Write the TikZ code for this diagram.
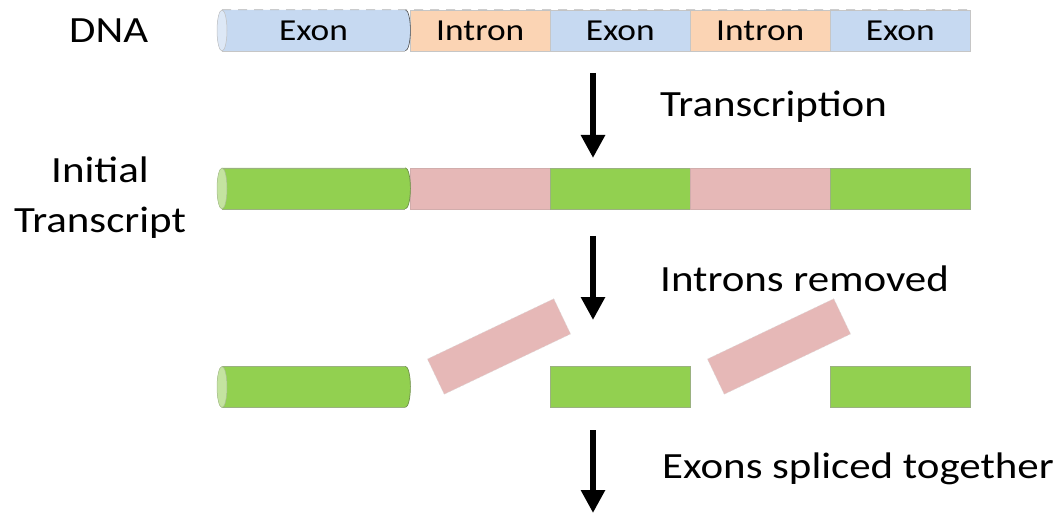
\documentclass[tikz,border=0pt]{standalone}
\usepackage{fontspec}
\setmainfont{Carlito}[FakeStretch=1.16]
\usetikzlibrary{arrows.meta}
\definecolor{exonblue}{HTML}{C6D9F1}
\definecolor{capblue}{HTML}{DDE8F6}
\definecolor{intronorange}{HTML}{FBD4B4}
\definecolor{rnagreen}{HTML}{92D050}
\definecolor{capgreen}{HTML}{C4E3A0}
\definecolor{rnapink}{HTML}{E6B8B7}
\definecolor{greenline}{HTML}{6F8F4A}
\begin{document}
\begin{tikzpicture}[x=1pt,y=1pt,
  seg/.style={minimum height=41pt, inner sep=0pt, anchor=west, font=\fontsize{30.5}{32}\selectfont},
  dnaseg/.style={seg, draw=gray!45, line width=0.5pt},
  rnaseg/.style={seg, draw=greenline!70, line width=0.5pt},
  pinkrot/.style={fill=rnapink, draw=gray!30, densely dotted, line width=0.6pt, minimum width=140pt, minimum height=39pt, inner sep=0pt},
  lbl/.style={font=\fontsize{37}{40}\selectfont, inner sep=0pt},
  bigarrow/.style={line width=6pt, -{Triangle[width=23pt,length=23pt]}}
]
\useasboundingbox (0,0) rectangle (1058,515);

% ---------- DNA row ----------
\node[dnaseg, fill=intronorange, minimum width=140pt] (d2) at (410,484.5) {Intron};
\node[dnaseg, fill=exonblue, minimum width=140pt] (d3) at (550,484.5) {Exon};
\node[dnaseg, fill=intronorange, minimum width=140pt] (d4) at (690,484.5) {Intron};
\node[dnaseg, fill=exonblue, minimum width=140pt] (d5) at (830,484.5) {Exon};
\node[seg, minimum width=183pt] (d1) at (222,484.5) {};
\fill[exonblue] (d1.north west) -- (d1.north east)
  arc[start angle=90, end angle=-90, x radius=5pt, y radius=20.5pt]
  -- (d1.south west) arc[start angle=270, end angle=90, x radius=5pt, y radius=20.5pt] -- cycle;
\draw[gray!45, line width=0.5pt] (d1.south west) -- (d1.south east);
\draw[black!70, line width=0.6pt] (d1.north east) arc[start angle=90, end angle=-90, x radius=5pt, y radius=20.5pt];
\draw[gray!50, line width=0.5pt, fill=capblue] (d1.west) ellipse[x radius=5pt, y radius=20.5pt];
\draw[gray!60, dashed, dash pattern=on 9pt off 7pt, line width=0.6pt] (d1.north west) -- (d5.north east);
\node[seg, anchor=center] (t1) at (313.5,484.5) {Exon};

% ---------- Initial transcript row ----------
\node[rnaseg, fill=rnapink, draw=rnapink!80!gray, minimum width=140pt] (r2) at (410,326.5) {};
\node[rnaseg, fill=rnagreen, minimum width=140pt] (r3) at (550,326.5) {};
\node[rnaseg, fill=rnapink, draw=rnapink!80!gray, minimum width=140pt] (r4) at (690,326.5) {};
\node[rnaseg, fill=rnagreen, minimum width=140pt] (r5) at (830,326.5) {};
\node[seg, minimum width=183pt] (r1) at (222,326.5) {};
\fill[rnagreen] (r1.north west) -- (r1.north east)
  arc[start angle=90, end angle=-90, x radius=5pt, y radius=20.5pt]
  -- (r1.south west) arc[start angle=270, end angle=90, x radius=5pt, y radius=20.5pt] -- cycle;
\draw[greenline!70, line width=0.5pt] (r1.north west) -- (r1.north east);
\draw[greenline!70, line width=0.5pt] (r1.south west) -- (r1.south east);
\draw[greenline, line width=0.7pt] (r1.north east) arc[start angle=90, end angle=-90, x radius=5pt, y radius=20.5pt];
\draw[greenline!60, line width=0.5pt, fill=capgreen] (r1.west) ellipse[x radius=5pt, y radius=20.5pt];

% ---------- Introns removed row ----------
\node[rnaseg, fill=rnagreen, minimum width=140pt] (s3) at (550,128) {};
\node[rnaseg, fill=rnagreen, minimum width=140pt] (s5) at (830,128) {};
\node[seg, minimum width=183pt] (s1) at (222,128) {};
\fill[rnagreen] (s1.north west) -- (s1.north east)
  arc[start angle=90, end angle=-90, x radius=5pt, y radius=20.5pt]
  -- (s1.south west) arc[start angle=270, end angle=90, x radius=5pt, y radius=20.5pt] -- cycle;
\draw[greenline!70, line width=0.5pt] (s1.north west) -- (s1.north east);
\draw[greenline!70, line width=0.5pt] (s1.south west) -- (s1.south east);
\draw[greenline, line width=0.7pt] (s1.north east) arc[start angle=90, end angle=-90, x radius=5pt, y radius=20.5pt];
\draw[greenline!60, line width=0.5pt, fill=capgreen] (s1.west) ellipse[x radius=5pt, y radius=20.5pt];
\node[pinkrot, rotate=25.5] (p1) at (499,168.5) {};
\node[pinkrot, rotate=25.5] (p2) at (779,168.5) {};

% ---------- arrows ----------
\coordinate (a1s) at (593,442); \coordinate (a1e) at (593,357);
\coordinate (a2s) at (593,279); \coordinate (a2e) at (593,195);
\coordinate (a3s) at (593,85);  \coordinate (a3e) at (593,2);
\draw[bigarrow] (a1s) -- (a1e);
\draw[bigarrow] (a2s) -- (a2e);
\draw[bigarrow] (a3s) -- (a3e);

% ---------- labels ----------
\node[lbl, anchor=base west] (dna) at (69,472) {DNA};
\node[lbl, anchor=base] (init) at (100,332) {Initial};
\node[lbl, anchor=base] (trs) at (100,283) {Transcript};
\node[lbl, anchor=base west] (l1) at (660,398) {Transcription};
\node[lbl, anchor=base west] (l2) at (660,224) {Introns removed};
\node[lbl, anchor=base west] (l3) at (662,37) {Exons spliced together};
\end{tikzpicture}
\end{document}
